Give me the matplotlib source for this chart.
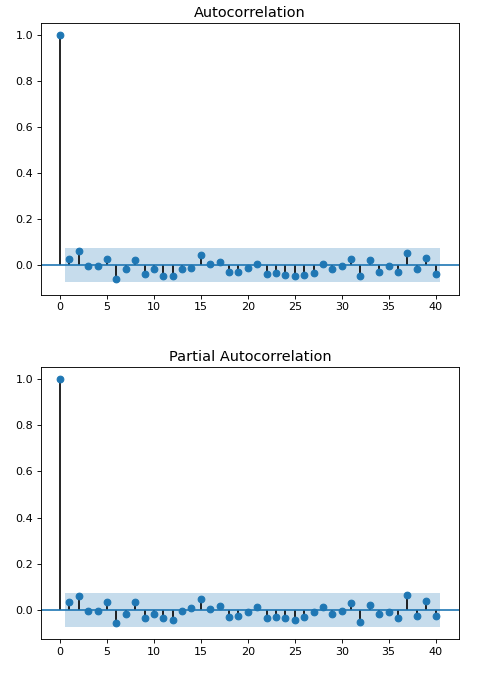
import numpy as np
import matplotlib
matplotlib.use("Agg")
import matplotlib.pyplot as plt

# lags 0..40
lags = list(range(41))

acf_vals = [1.0,
            0.029, 0.062, -0.004, -0.004, 0.029, -0.058, -0.017, 0.022, -0.036, -0.017,
            -0.046, -0.046, -0.017, -0.010, 0.043, 0.004, 0.016, -0.028, -0.028, -0.010,
            0.007, -0.036, -0.032, -0.042, -0.046, -0.042, -0.032, 0.007, -0.017, -0.003,
            0.029, -0.046, 0.022, -0.028, -0.003, -0.028, 0.055, -0.017, 0.033, -0.036]

pacf_vals = [1.0,
             0.033, 0.059, -0.007, -0.003, 0.033, -0.058, -0.017, 0.033, -0.036, -0.017,
             -0.036, -0.042, -0.007, 0.007, 0.048, 0.004, 0.016, -0.032, -0.028, -0.010,
             0.012, -0.036, -0.032, -0.036, -0.046, -0.032, -0.010, 0.012, -0.017, -0.003,
             0.029, -0.054, 0.022, -0.020, -0.010, -0.036, 0.065, -0.028, 0.038, -0.028]

# 95% confidence band half-width
conf_width = 0.074

titles = ["Autocorrelation", "Partial Autocorrelation"]

DPI = 80
fig = plt.figure(figsize=(496 / DPI, 673 / DPI), dpi=DPI)
ax1 = fig.add_axes([0.0827, 0.5621, 0.8433, 0.4037])
ax2 = fig.add_axes([0.0827, 0.0501, 0.8433, 0.4050])

for ax, vals, title in zip([ax1, ax2], [acf_vals, pacf_vals], titles):
    ax.vlines(lags, 0, vals, color="black", linewidth=1.5)
    ax.plot(lags, vals, "o", color="C0", markersize=6)
    ax.axhline(0, color="C0", linewidth=1.5)
    # band from lag 1, widened by half a lag at each end
    band_x = np.array(lags[1:], dtype=float)
    band_x[0] -= 0.5
    band_x[-1] += 0.5
    ax.fill_between(band_x, -conf_width, conf_width, color="C0", alpha=0.25, linewidth=0)
    ax.set_title(title, fontsize=13, pad=5)
    ax.set_yticks([0.0, 0.2, 0.4, 0.6, 0.8, 1.0])
    ax.set_xticks([0, 5, 10, 15, 20, 25, 30, 35, 40])

fig.savefig("out.png", dpi=DPI)
